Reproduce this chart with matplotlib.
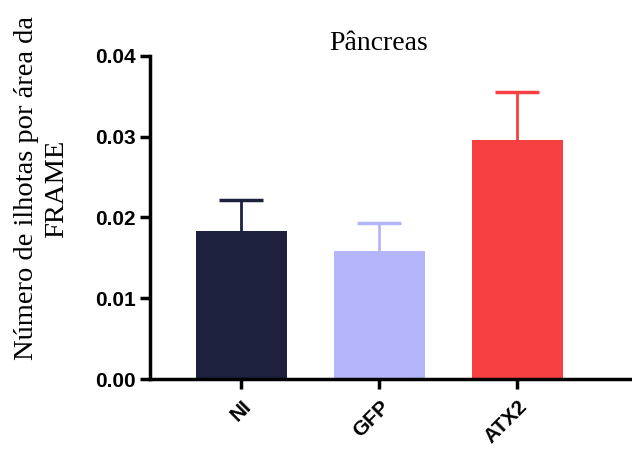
import numpy as np
import matplotlib.pyplot as plt

# dados
groups = ['NI', 'GFP', 'ATX2']
means = [0.0183, 0.0159, 0.0296]
sem = [0.0038, 0.0034, 0.0059]
colors = ['#1e213d', '#b5b5fb', '#f74042']

fig = plt.figure(figsize=(6.32, 4.54), dpi=100)
ax = fig.add_axes([0.237, 0.165, 0.763, 0.712])

x = np.arange(len(groups))
ax.bar(x, means, width=0.66, color=colors, zorder=2)
for xi, m, e, c in zip(x, means, sem, colors):
    eb = ax.errorbar(xi, m, yerr=[[0], [e]], color=c, elinewidth=2, capsize=16,
                     capthick=2.5, zorder=1)
    eb[1][0].set_visible(False)  # só a barra de cima

ax.set_xlim(-0.663, 2.83)
ax.set_ylim(0, 0.04)
ax.set_yticks([0, 0.01, 0.02, 0.03, 0.04])
ax.set_yticklabels(['0.00', '0.01', '0.02', '0.03', '0.04'])
ax.set_xticks(x)
ax.set_xticklabels(groups, rotation=45, ha='right', rotation_mode='anchor')
for lab in ax.get_xticklabels() + ax.get_yticklabels():
    lab.set_fontfamily('Liberation Sans')
    lab.set_fontweight('bold')
    lab.set_fontsize(15)

ax.spines['top'].set_visible(False)
ax.spines['right'].set_visible(False)
ax.spines['left'].set_linewidth(2.5)
ax.spines['bottom'].set_linewidth(2.5)
ax.tick_params(width=2.5, length=7, pad=3)
ax.tick_params(axis='x', pad=6)

ax.set_title('Pâncreas', fontfamily='Liberation Serif', fontsize=20, pad=-8, x=0.475)
fig.text(0.066, 0.585, 'Número de ilhotas por área da\nFRAME', rotation=90,
         ha='center', va='center', fontfamily='Liberation Serif', fontsize=20.5,
         multialignment='center', linespacing=1.25)

plt.savefig('out.png')
